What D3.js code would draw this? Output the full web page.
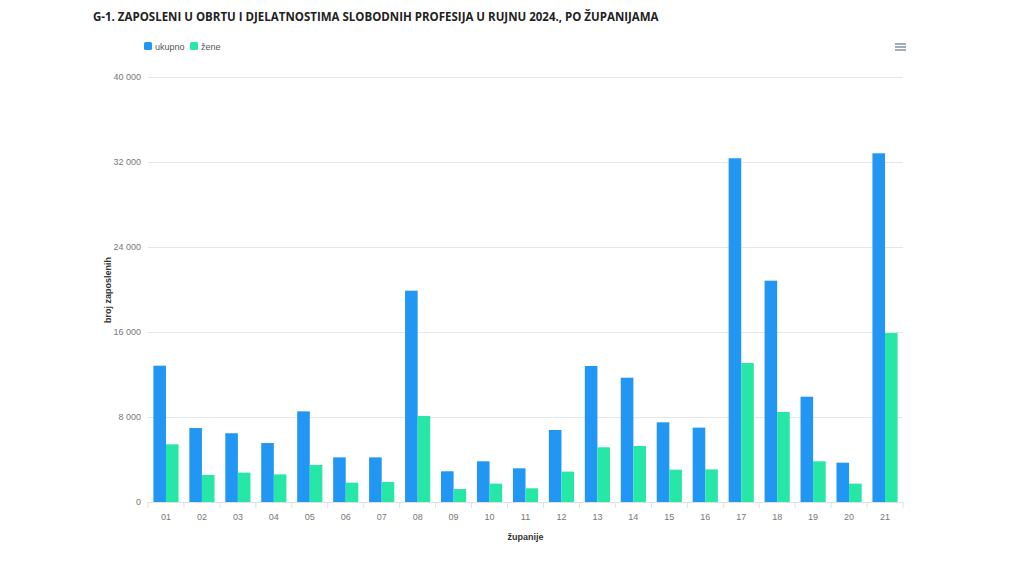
<!DOCTYPE html>
<html>
<head>
<meta charset="utf-8">
<script src="https://cdn.jsdelivr.net/npm/d3@7"></script>
<style>
html,body{margin:0;padding:0;background:#fff;}
svg{display:block;}
</style>
</head>
<body>
<svg id="chart" width="1024" height="570"></svg>
<script>
const categories = ["01","02","03","04","05","06","07","08","09","10","11","12","13","14","15","16","17","18","19","20","21"];
const ukupno = [12830, 6960, 6470, 5550, 8530, 4200, 4200, 19890, 2890, 3830, 3170, 6780, 12800, 11700, 7500, 7000, 32350, 20830, 9910, 3700, 32820];
const zene   = [5430, 2540, 2760, 2600, 3480, 1820, 1880, 8090, 1220, 1730, 1290, 2860, 5150, 5270, 3040, 3070, 13080, 8470, 3830, 1730, 15900];
const yTicks = [0, 8000, 16000, 24000, 32000, 40000];
const seriesNames = ["ukupno", "žene"];
const colors = ["#2196F3", "#26E7A6"];

const svg = d3.select("#chart");
const m = {left:148, right:903, top:77, bottom:502};

const x = d3.scaleBand().domain(categories).range([m.left, m.right]).paddingInner(0.3).paddingOuter(0.15);
const x0 = d3.scaleBand().domain(categories).range([m.left, m.right]).padding(0);
const xs = d3.scaleBand().domain(seriesNames).range([0, x.bandwidth()]);
const y = d3.scaleLinear().domain([0, 40000]).range([m.bottom, m.top]);
const fmt = v => d3.format(",")(v).replace(/,/g, " ");

// title
svg.append("text").attr("x", 93).attr("y", 21)
  .attr("font-family", "'Open Sans', sans-serif").attr("font-weight", 700)
  .attr("font-size", 11.5).attr("fill", "#222")
  .text("G-1. ZAPOSLENI U OBRTU I DJELATNOSTIMA SLOBODNIH PROFESIJA U RUJNU 2024., PO ŽUPANIJAMA");

// grid
const yAxis = d3.axisLeft(y).tickValues(yTicks).tickSize(-(m.right - m.left)).tickFormat(fmt).tickPadding(7);
const gy = svg.append("g").attr("transform", `translate(${m.left},0)`).call(yAxis);
gy.select(".domain").remove();
gy.selectAll(".tick line").attr("stroke", "#e6e6e6").attr("stroke-width", 1);
gy.selectAll(".tick text").attr("font-family", "'Liberation Sans', Arial, sans-serif")
  .attr("font-size", 9).attr("fill", "#777");

// bars
const data = categories.map((c, i) => ({c, vals: [ukupno[i], zene[i]]}));
const groups = svg.append("g").selectAll("g").data(data).join("g")
  .attr("transform", d => `translate(${x(d.c)},0)`);
groups.selectAll("rect").data(d => d.vals.map((v, k) => ({k, v}))).join("rect")
  .attr("x", d => xs(seriesNames[d.k]))
  .attr("width", xs.bandwidth())
  .attr("y", d => y(d.v))
  .attr("height", d => y(0) - y(d.v))
  .attr("fill", d => colors[d.k]);

// x axis
const xAxis = d3.axisBottom(x).tickSize(0).tickPadding(12);
const gx = svg.append("g").attr("transform", `translate(0,${m.bottom})`).call(xAxis);
gx.select(".domain").attr("stroke", "#e0e0e0");
gx.selectAll(".tick text").attr("font-family", "'Liberation Sans', Arial, sans-serif")
  .attr("font-size", 9).attr("fill", "#777");
// boundary ticks
svg.append("g").selectAll("line").data(categories.slice(0).concat(["end"])).join("line")
  .attr("x1", (d, i) => i < categories.length ? x0(d) : m.right)
  .attr("x2", (d, i) => i < categories.length ? x0(d) : m.right)
  .attr("y1", m.bottom).attr("y2", m.bottom + 6)
  .attr("stroke", "#e0e0e0");

// axis titles
svg.append("text").attr("transform", `translate(111,290) rotate(-90)`)
  .attr("text-anchor", "middle").attr("font-family", "'Liberation Sans', Arial, sans-serif")
  .attr("font-weight", 700).attr("font-size", 9).attr("fill", "#333").text("broj zaposlenih");
svg.append("text").attr("x", (m.left + m.right) / 2).attr("y", 540)
  .attr("text-anchor", "middle").attr("font-family", "'Liberation Sans', Arial, sans-serif")
  .attr("font-weight", 700).attr("font-size", 9).attr("fill", "#333").text("županije");

// legend
const legX = [144, 190];
const lg = svg.append("g").selectAll("g").data(seriesNames).join("g")
  .attr("transform", (d, i) => `translate(${legX[i]},42)`);
lg.append("rect").attr("width", 8).attr("height", 8).attr("rx", 1.5).attr("fill", (d, i) => colors[i]);
lg.append("text").attr("x", 11).attr("y", 7.5)
  .attr("font-family", "'Liberation Sans', Arial, sans-serif").attr("font-size", 9)
  .attr("fill", "#555").text(d => d);

// menu icon
svg.append("g").selectAll("line").data([0, 1, 2]).join("line")
  .attr("x1", 895).attr("x2", 906)
  .attr("y1", d => 44 + d * 3).attr("y2", d => 44 + d * 3)
  .attr("stroke", "#6e8192").attr("stroke-width", 1.3);
</script>
</body>
</html>
